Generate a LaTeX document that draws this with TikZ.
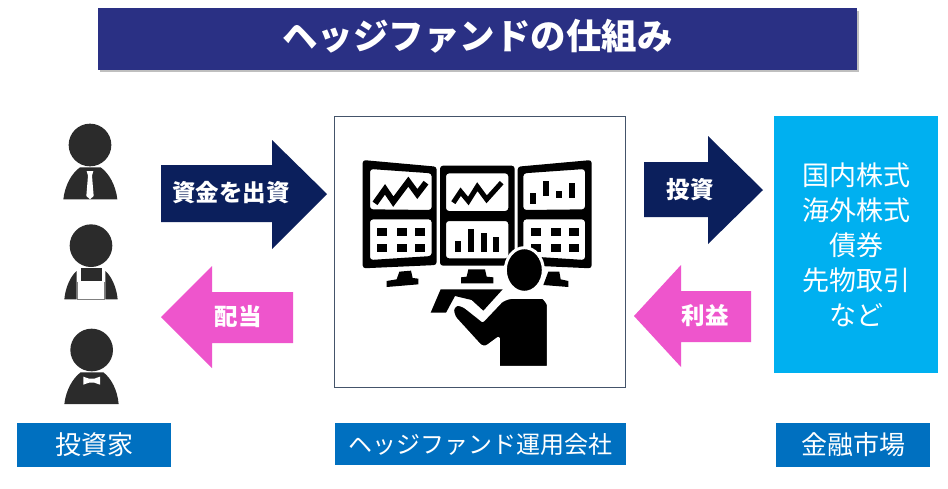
\documentclass[tikz,border=0pt]{standalone}
\usepackage{fontspec}
\setmainfont{Noto Sans CJK JP}
\usepackage{xcolor}
\definecolor{titleblue}{HTML}{2A3084}
\definecolor{capblue}{HTML}{0070C0}
\definecolor{marketblue}{HTML}{00B0F0}
\definecolor{navyarrow}{HTML}{0B1F5C}
\definecolor{pinkarrow}{HTML}{EE55CC}
\definecolor{persongray}{HTML}{2B2B2B}
\definecolor{fundline}{HTML}{44546A}
\tikzset{
  caption/.style={fill=capblue,text=white,font=\fontsize{26}{30}\selectfont,inner sep=0pt,anchor=center},
  arrowtext/.style={text=white,font=\fontsize{23.5}{28}\selectfont\bfseries},
  navy/.style={fill=navyarrow},
  pink/.style={fill=pinkarrow},
  halo/.style={fill=black,draw=white,line width=3pt,line join=round},
  chartline/.style={draw=black,line width=6pt,line join=miter},
}
\begin{document}
\begin{tikzpicture}[x=1pt,y=-1pt]
\useasboundingbox (0,0) rectangle (948,488);
\fill[white] (0,0) rectangle (948,488);

% Title bar
\fill[black!25] (100,11) rectangle (859,72);
\node[fill=titleblue,minimum width=759pt,minimum height=62pt,inner sep=0pt] (title) at (477.5,39) {};
\node[text=white,font=\fontsize{35.5}{40}\selectfont\bfseries] (titletext) at (477.5,36) {ヘッジファンドの仕組み};

% Arrows
\fill[navy] (161,165) -- (272,165) -- (272,140) -- (327,194) -- (272,249) -- (272,222) -- (161,222) -- cycle;
\fill[pink] (161,317) -- (212,266) -- (212,292) -- (293,292) -- (293,343) -- (212,343) -- (212,368) -- cycle;
\fill[navy] (644,162) -- (708,162) -- (708,136) -- (763,190) -- (708,244) -- (708,217) -- (644,217) -- cycle;
\fill[pink] (634,316) -- (681,265) -- (681,291) -- (751,291) -- (751,342) -- (681,342) -- (681,367) -- cycle;
\node[arrowtext] (capital) at (231,193) {資金を出資};
\node[arrowtext] (dividend) at (238,317) {配当};
\node[arrowtext] (invest) at (690,190) {投資};
\node[arrowtext] (profit) at (705,316) {利益};

% Boxes
\node[draw=fundline,line width=0.8pt,fill=white,minimum width=291pt,minimum height=271pt,inner sep=0pt] (fund) at (479.5,251.5) {};
\node[fill=marketblue,text=white,minimum width=164pt,minimum height=257pt,inner sep=0pt,align=center,
  font=\fontsize{27}{35}\selectfont] (market) at (856,244.5) {国内株式\\海外株式\\債券\\先物取引\\など};

% Captions
\node[caption,minimum width=154pt,minimum height=44pt] (investors) at (94,445) {投資家};
\node[caption,minimum width=291pt,minimum height=42pt,font=\fontsize{24}{29}\selectfont] (company) at (480.5,444) {ヘッジファンド運用会社};
\node[caption,minimum width=154pt,minimum height=44pt] (place) at (853,445) {金融市場};

% Investors (zoomed crop coordinates)
\begin{scope}[shift={(40,110)},scale=1/3]
\fill[persongray] (150,105) circle (64);
\fill[persongray] (70,268) .. controls (75,225) and (95,190) .. (120,172) -- (182,172) .. controls (207,190) and (227,225) .. (232,268) -- cycle;
\fill[white] (140,183) -- (160,183) -- (156,197) -- (161,258) -- (150,268) -- (139,258) -- (144,197) -- cycle;

\fill[persongray] (153,407) circle (64);
\fill[persongray] (122,473) rectangle (185,514);
\fill[persongray] (73,568) .. controls (76,535) and (90,500) .. (110,483) -- (110,568) -- cycle;
\fill[persongray] (233,568) .. controls (230,535) and (216,500) .. (196,483) -- (196,568) -- cycle;
\draw[persongray!60,line width=0.6pt] (112,515) -- (112,568) -- (193,568) -- (193,515);

\fill[persongray] (155,720) circle (64);
\fill[persongray] (73,882) .. controls (78,840) and (98,805) .. (122,787) -- (190,787) .. controls (214,805) and (232,840) .. (236,882) -- cycle;
\fill[white] (130,800) -- (147,806) -- (163,806) -- (180,800) -- (180,824) -- (163,818) -- (147,818) -- (130,824) -- cycle;
\end{scope}

% Trader at the monitors (zoomed crop coordinates)
\begin{scope}[shift={(340,120)},scale=1/3]
\fill[black,even odd rule,rounded corners=3pt] (68,120) -- (290,140) -- (290,435) -- (68,445) -- cycle
  (90,147) -- (275,160) -- (275,270) -- (90,268) -- cycle
  (90,298) -- (275,298) -- (275,408) -- (90,420) -- cycle;
\fill[black,even odd rule,rounded corners=3pt] (300,137) rectangle (524,437)
  (318,160) rectangle (505,273)
  (318,303) rectangle (505,415);
\fill[black,even odd rule,rounded corners=3pt] (533,140) -- (755,120) -- (755,445) -- (533,435) -- cycle
  (550,160) -- (735,147) -- (735,268) -- (550,270) -- cycle
  (550,298) -- (735,298) -- (735,420) -- (550,408) -- cycle;
% stands
\fill[black] (178,455) -- (213,452) -- (218,474) -- (235,476) -- (235,493) -- (140,501) -- (140,483) -- (170,478) -- cycle;
\fill[black] (385,448) -- (435,448) -- (440,470) -- (460,472) -- (460,490) -- (363,490) -- (363,472) -- (380,470) -- cycle;
\fill[black] (625,455) -- (658,455) -- (662,478) -- (685,483) -- (685,501) -- (610,495) -- cycle;
% charts
\draw[chartline] (105,250) -- (135,208) -- (160,245) -- (205,185) -- (232,222) -- (258,188);
\draw[chartline,line width=5pt] (340,248) -- (362,215) -- (385,243) -- (412,200) -- (440,238) -- (485,188);
\foreach \xa/\ya/\yb in {571/218/252,610/182/228,648/212/234,687/188/234}
  \fill[black] (\xa,\ya) rectangle (\xa+18,\yb);
\foreach \xa/\ya in {344/362,384/326,422/338,460/350}
  \fill[black] (\xa,\ya) rectangle (\xa+18,396);
\foreach \xa in {110,170,224,572,632,686}
  \foreach \ya in {325,371}
    \fill[black] (\xa,\ya) rectangle (\xa+30,\ya+24);
% desk
\fill[black] (302,508) -- (488,508) -- (430,572) -- (395,540) -- (345,528) -- (318,578) -- (272,578) -- cycle;
% person
\fill[halo] (553,450) ellipse (57 and 67);
\path[halo] (482,545) [rounded corners=6pt] -- (500,532) -- (590,532) .. controls (612,532) and (625,550) .. (625,572) [sharp corners] -- (625,742) -- (475,742) -- (475,655)
  [rounded corners=6pt] -- (430,688) -- (336,585) -- (340,552) -- (365,552) [sharp corners] -- (428,602) -- cycle;
\end{scope}
\end{tikzpicture}
\end{document}
